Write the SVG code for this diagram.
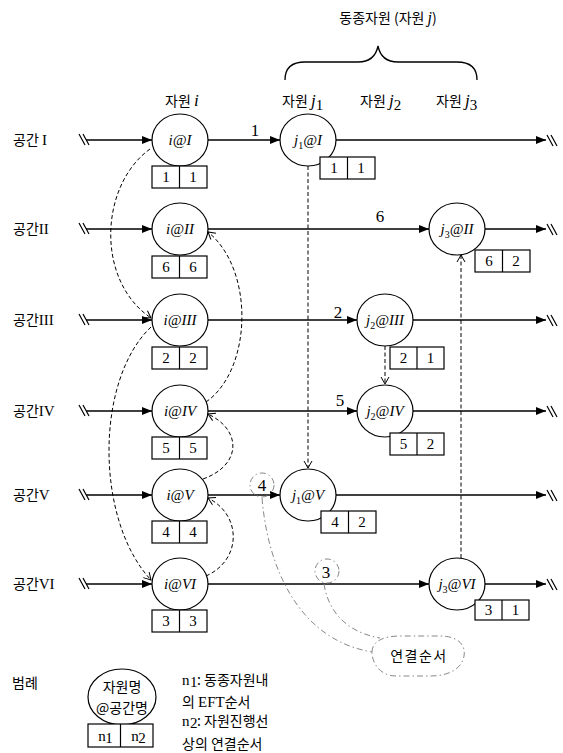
<svg xmlns="http://www.w3.org/2000/svg" width="563" height="753" viewBox="0 0 563 753">
<defs>
<style>
.kr{font-family:"Noto Sans CJK KR","Noto Sans",sans-serif;font-size:14px;fill:#000}
.rm{font-family:"Liberation Serif",serif;font-size:15px}
.it{font-family:"Liberation Serif",serif;font-style:italic}
.nl{font-family:"Liberation Serif",serif;font-style:italic;font-size:15px;text-anchor:middle;fill:#000}
.sub{font-style:normal;font-size:10px}
.num{font-family:"Liberation Serif",serif;font-size:15px;text-anchor:middle;fill:#000}
.lbl{font-family:"Liberation Serif",serif;font-size:17px;text-anchor:middle;fill:#000}
.node{fill:#fff;stroke:#000;stroke-width:1.2}
.box{fill:#fff;stroke:#000;stroke-width:1.2}
.lane{stroke:#000;stroke-width:1.3;fill:none}
.brk{stroke:#000;stroke-width:1.2;fill:none}
.dash{stroke:#000;stroke-width:1;stroke-dasharray:4 2.5;fill:none}
.dd{stroke:#888;stroke-width:1;stroke-dasharray:6 3 1.5 3;fill:none}
</style>
<marker id="ah" markerUnits="userSpaceOnUse" markerWidth="10" markerHeight="8" refX="10" refY="4" orient="auto">
<path d="M0,0 L10,4 L0,8 z" fill="#000"/>
</marker>
<marker id="ov" markerUnits="userSpaceOnUse" markerWidth="9" markerHeight="10" refX="8" refY="5" orient="auto">
<path d="M1,1 L8,5 L1,9" fill="none" stroke="#000" stroke-width="1"/>
</marker>
</defs>
<rect width="563" height="753" fill="#fff"/>

<!-- headers -->
<g id="header">
<text class="kr" x="388" y="23" text-anchor="middle">동종자원 (자원 <tspan class="it" font-size="16">j</tspan>)</text>
<path class="lane" d="M285,80 C285,67 292,62 305,62 L358,62 C370,62 376,56 378,46 C380,56 386,62 398,62 L457,62 C470,62 477,67 477,80"/>
<text class="kr" x="165" y="106">자원 <tspan class="it" font-size="17">i</tspan></text>
<text class="kr" x="282" y="106">자원 <tspan class="it" font-size="17">j</tspan><tspan class="rm" font-size="11" dy="4">1</tspan></text>
<text class="kr" x="360" y="106">자원 <tspan class="it" font-size="17">j</tspan><tspan class="rm" font-size="11" dy="4">2</tspan></text>
<text class="kr" x="436" y="106">자원 <tspan class="it" font-size="17">j</tspan><tspan class="rm" font-size="11" dy="4">3</tspan></text>
</g>

<!-- lane labels -->
<g id="lane-labels">
<text class="kr" x="13" y="145">공간 <tspan class="rm">I</tspan></text>
<text class="kr" x="13" y="234">공간<tspan class="rm">II</tspan></text>
<text class="kr" x="13" y="325">공간<tspan class="rm">III</tspan></text>
<text class="kr" x="13" y="416">공간<tspan class="rm">IV</tspan></text>
<text class="kr" x="13" y="500">공간<tspan class="rm">V</tspan></text>
<text class="kr" x="13" y="589">공간<tspan class="rm">VI</tspan></text>
</g>

<!-- connectors -->
<g id="connectors">
<path class="brk" d="M79,134 L85,145 M83,134 L89,145 M547,135 L553,146 M551,135 L557,146"/>
<path class="brk" d="M79,223 L85,234 M83,223 L89,234 M547,224 L553,235 M551,224 L557,235"/>
<path class="brk" d="M79,314 L85,325 M83,314 L89,325 M547,315 L553,326 M551,315 L557,326"/>
<path class="brk" d="M79,405 L85,416 M83,405 L89,416 M547,406 L553,417 M551,406 L557,417"/>
<path class="brk" d="M79,489 L85,500 M83,489 L89,500 M547,490 L553,501 M551,490 L557,501"/>
<path class="brk" d="M79,578 L85,589 M83,578 L89,589 M547,579 L553,590 M551,579 L557,590"/>
<line class="lane" x1="86" y1="140" x2="152" y2="140" marker-end="url(#ah)"/>
<line class="lane" x1="208" y1="140" x2="280" y2="140" marker-end="url(#ah)"/>
<line class="lane" x1="336" y1="140" x2="546" y2="140" marker-end="url(#ah)"/>
<line class="lane" x1="86" y1="229" x2="152" y2="229" marker-end="url(#ah)"/>
<line class="lane" x1="208" y1="229" x2="429" y2="229" marker-end="url(#ah)"/>
<line class="lane" x1="485" y1="229" x2="546" y2="229" marker-end="url(#ah)"/>
<line class="lane" x1="86" y1="320" x2="152" y2="320" marker-end="url(#ah)"/>
<line class="lane" x1="208" y1="320" x2="357" y2="320" marker-end="url(#ah)"/>
<line class="lane" x1="413" y1="320" x2="546" y2="320" marker-end="url(#ah)"/>
<line class="lane" x1="86" y1="411" x2="152" y2="411" marker-end="url(#ah)"/>
<line class="lane" x1="208" y1="411" x2="357" y2="411" marker-end="url(#ah)"/>
<line class="lane" x1="413" y1="411" x2="546" y2="411" marker-end="url(#ah)"/>
<line class="lane" x1="86" y1="495" x2="152" y2="495" marker-end="url(#ah)"/>
<line class="lane" x1="208" y1="495" x2="280" y2="495" marker-end="url(#ah)"/>
<line class="lane" x1="336" y1="495" x2="546" y2="495" marker-end="url(#ah)"/>
<line class="lane" x1="86" y1="584" x2="152" y2="584" marker-end="url(#ah)"/>
<line class="lane" x1="208" y1="584" x2="429" y2="584" marker-end="url(#ah)"/>
<line class="lane" x1="485" y1="584" x2="546" y2="584" marker-end="url(#ah)"/>

<path class="dash" d="M150,149 C100,185 95,280 151,318" marker-end="url(#ov)"/>
<path class="dash" d="M151,327 C95,380 95,520 151,580" marker-end="url(#ov)"/>
<path class="dash" d="M206,576 C242,560 242,515 208,498" marker-end="url(#ov)"/>
<path class="dash" d="M203,479 C242,465 242,430 208,414" marker-end="url(#ov)"/>
<path class="dash" d="M206,402 C252,370 255,270 208,232" marker-end="url(#ov)"/>
<line class="dash" x1="308" y1="166" x2="308" y2="468" marker-end="url(#ov)"/>
<line class="dash" x1="385" y1="346" x2="385" y2="384" marker-end="url(#ov)"/>
<line class="dash" x1="461" y1="558" x2="461" y2="255" marker-end="url(#ov)"/>
</g>

<!-- edge order labels -->
<g id="edge-labels">
<text class="lbl" x="255" y="136">1</text>
<text class="lbl" x="380" y="222">6</text>
<text class="lbl" x="338" y="318">2</text>
<text class="lbl" x="340" y="406">5</text>
<text class="lbl" x="262" y="491">4</text>
<text class="lbl" x="326" y="578">3</text>
</g>

<!-- nodes: resource i -->
<g id="node-i-I"><ellipse class="node" cx="180" cy="140" rx="28" ry="26"/><text class="nl" x="180" y="145">i@I</text>
<rect class="box" x="152" y="166" width="55" height="22"/><line class="box" x1="179.5" y1="166" x2="179.5" y2="188"/>
<text class="num" x="166" y="182">1</text><text class="num" x="193" y="182">1</text></g>
<g id="node-i-II"><ellipse class="node" cx="180" cy="229" rx="28" ry="26"/><text class="nl" x="180" y="234">i@II</text>
<rect class="box" x="152" y="256" width="55" height="22"/><line class="box" x1="179.5" y1="256" x2="179.5" y2="278"/>
<text class="num" x="166" y="272">6</text><text class="num" x="193" y="272">6</text></g>
<g id="node-i-III"><ellipse class="node" cx="180" cy="320" rx="28" ry="26"/><text class="nl" x="180" y="325">i@III</text>
<rect class="box" x="152" y="347" width="55" height="22"/><line class="box" x1="179.5" y1="347" x2="179.5" y2="369"/>
<text class="num" x="166" y="363">2</text><text class="num" x="193" y="363">2</text></g>
<g id="node-i-IV"><ellipse class="node" cx="180" cy="411" rx="28" ry="26"/><text class="nl" x="180" y="416">i@IV</text>
<rect class="box" x="152" y="437" width="55" height="22"/><line class="box" x1="179.5" y1="437" x2="179.5" y2="459"/>
<text class="num" x="166" y="453">5</text><text class="num" x="193" y="453">5</text></g>
<g id="node-i-V"><ellipse class="node" cx="180" cy="495" rx="28" ry="26"/><text class="nl" x="180" y="500">i@V</text>
<rect class="box" x="152" y="521" width="55" height="22"/><line class="box" x1="179.5" y1="521" x2="179.5" y2="543"/>
<text class="num" x="166" y="537">4</text><text class="num" x="193" y="537">4</text></g>
<g id="node-i-VI"><ellipse class="node" cx="180" cy="584" rx="28" ry="26"/><text class="nl" x="180" y="589">i@VI</text>
<rect class="box" x="152" y="610" width="55" height="22"/><line class="box" x1="179.5" y1="610" x2="179.5" y2="632"/>
<text class="num" x="166" y="626">3</text><text class="num" x="193" y="626">3</text></g>

<!-- nodes: resource j -->
<g id="node-j1-I"><ellipse class="node" cx="308" cy="140" rx="28" ry="26"/><text class="nl" x="308" y="145">j<tspan class="sub" dy="4">1</tspan><tspan dy="-4">@I</tspan></text>
<rect class="box" x="320" y="157" width="55" height="22"/><line class="box" x1="347.5" y1="157" x2="347.5" y2="179"/>
<text class="num" x="334" y="173">1</text><text class="num" x="361" y="173">1</text></g>
<g id="node-j3-II"><ellipse class="node" cx="457" cy="229" rx="28" ry="26"/><text class="nl" x="457" y="234">j<tspan class="sub" dy="4">3</tspan><tspan dy="-4">@II</tspan></text>
<rect class="box" x="475" y="250" width="55" height="22"/><line class="box" x1="502.5" y1="250" x2="502.5" y2="272"/>
<text class="num" x="489" y="266">6</text><text class="num" x="516" y="266">2</text></g>
<g id="node-j2-III"><ellipse class="node" cx="385" cy="320" rx="28" ry="26"/><text class="nl" x="385" y="325">j<tspan class="sub" dy="4">2</tspan><tspan dy="-4">@III</tspan></text>
<rect class="box" x="390" y="347" width="54" height="22"/><line class="box" x1="417" y1="347" x2="417" y2="369"/>
<text class="num" x="403.5" y="363">2</text><text class="num" x="430.5" y="363">1</text></g>
<g id="node-j2-IV"><ellipse class="node" cx="385" cy="411" rx="28" ry="26"/><text class="nl" x="385" y="416">j<tspan class="sub" dy="4">2</tspan><tspan dy="-4">@IV</tspan></text>
<rect class="box" x="390" y="433" width="54" height="22"/><line class="box" x1="417" y1="433" x2="417" y2="455"/>
<text class="num" x="403.5" y="449">5</text><text class="num" x="430.5" y="449">2</text></g>
<g id="node-j1-V"><ellipse class="node" cx="308" cy="495" rx="28" ry="26"/><text class="nl" x="308" y="500">j<tspan class="sub" dy="4">1</tspan><tspan dy="-4">@V</tspan></text>
<rect class="box" x="321" y="511" width="55" height="22"/><line class="box" x1="348.5" y1="511" x2="348.5" y2="533"/>
<text class="num" x="335" y="527">4</text><text class="num" x="362" y="527">2</text></g>
<g id="node-j3-VI"><ellipse class="node" cx="457" cy="584" rx="28" ry="26"/><text class="nl" x="457" y="589">j<tspan class="sub" dy="4">3</tspan><tspan dy="-4">@VI</tspan></text>
<rect class="box" x="475" y="600" width="54" height="20"/><line class="box" x1="502" y1="600" x2="502" y2="620"/>
<text class="num" x="488.5" y="615">3</text><text class="num" x="515.5" y="615">1</text></g>

<!-- callout -->
<g id="callout">
<circle class="dd" cx="262" cy="485" r="12"/>
<circle class="dd" cx="327" cy="571" r="12"/>
<path class="dd" d="M262,498 C268,570 300,640 372,652"/>
<path class="dd" d="M324,584 C328,610 345,632 380,638"/>
<path class="dd" d="M372,652 C372,641 384,636 400,636 L440,636 C458,636 466,645 464,656 C462,668 450,676 430,676 L396,676 C381,676 372,664 372,652 Z"/>
<text class="kr" x="419" y="661" text-anchor="middle" font-size="15" letter-spacing="1.5">연결순서</text>
</g>

<!-- legend -->
<g id="legend">
<text class="kr" x="12" y="688">범례</text>
<ellipse class="node" cx="122" cy="697" rx="34" ry="28"/>
<text class="kr" x="122" y="692" text-anchor="middle" font-size="15">자원명</text>
<text class="kr" x="122" y="713" text-anchor="middle" font-size="15">@공간명</text>
<rect class="box" x="88" y="724" width="65" height="23"/><line class="box" x1="120.5" y1="724" x2="120.5" y2="747"/>
<text class="num" x="102" y="741">n</text><text class="num" x="109" y="743" font-size="9">1</text>
<text class="num" x="135" y="741">n</text><text class="num" x="142" y="743" font-size="9">2</text>
<text class="rm" x="182" y="685">n</text><text class="rm" x="190" y="687" font-size="9">1</text>
<text class="kr" x="197" y="685">: 동종자원내</text>
<text class="kr" x="182" y="707">의 <tspan class="rm">EFT</tspan>순서</text>
<text class="rm" x="182" y="726">n</text><text class="rm" x="190" y="728" font-size="9">2</text>
<text class="kr" x="197" y="726">: 자원진행선</text>
<text class="kr" x="182" y="749">상의 연결순서</text>
</g>
</svg>
